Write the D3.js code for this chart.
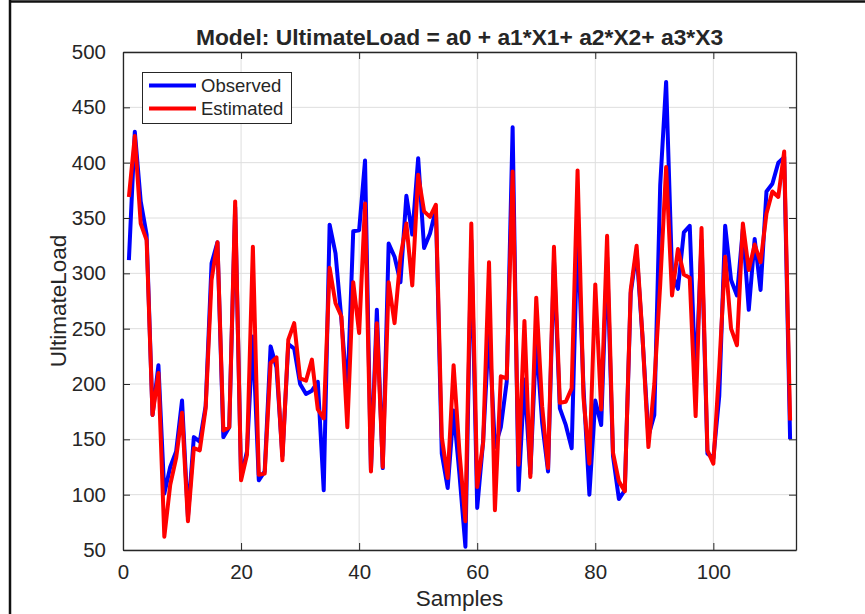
<!DOCTYPE html>
<html>
<head>
<meta charset="utf-8">
<script src="https://cdn.jsdelivr.net/npm/d3@7/dist/d3.min.js"></script>
<style>
html,body{margin:0;padding:0;background:#fff;}
svg{display:block;}
text{font-family:"Liberation Sans",Arial,Helvetica,sans-serif;fill:#262626;}
</style>
</head>
<body>
<svg id="chart" width="865" height="614"></svg>
<script>
const observed = [312,428,365,335,172,217,101,125,139,185,80,152,148,180,309,328,152,161,360,116,
  139,243,113,121,234,215,135,236,232,200,191,194,202,104,344,318,258,190,338,339,
  402,122,267,124,327,315,292,370,335,404,323,336,358,137,106,176,118,53,330,88,
  148,250,143,161,202,432,104,204,119,240,165,121,312,178,163,142,340,197,100,185,
  163,315,135,96,104,282,320,242,153,172,380,473,300,286,337,343,200,330,137,133,
  189,343,294,280,340,267,331,285,374,381,400,405,150];
const estimated = [369,424,345,330,172,210,62,109,133,174,76,142,140,178,294,328,158,161,365,113,
  136,324,118,119,219,224,131,240,255,205,203,222,177,169,305,273,261,161,292,246,
  363,121,255,125,292,255,315,345,289,389,356,351,362,152,115,217,138,76,345,107,
  147,310,86,207,205,392,127,257,116,278,180,124,324,183,184,196,393,188,128,290,
  177,334,138,112,103,285,325,243,143,200,290,396,280,322,299,296,171,341,140,128,
  215,315,250,235,345,303,326,310,354,374,369,410,167];
const samples = observed.map((d, i) => i + 1);
const xTicks = [0, 20, 40, 60, 80, 100];
const yTicks = [50, 100, 150, 200, 250, 300, 350, 400, 450, 500];
const seriesNames = ["Observed", "Estimated"];
const seriesColors = ["#0000ff", "#ff0000"];
const titleText = "Model: UltimateLoad = a0 + a1*X1+ a2*X2+ a3*X3";
const xLabel = "Samples";
const yLabel = "UltimateLoad";

const svg = d3.select("#chart");
const L = 123, R = 796, T = 52, B = 550;
const x = d3.scaleLinear().domain([0, 114]).range([L, R]);
const y = d3.scaleLinear().domain([50, 500]).range([B, T]);
const axisColor = "#262626";

// figure frame
svg.append("line").attr("x1", 9.5).attr("x2", 865).attr("y1", 1.5).attr("y2", 1.5)
  .attr("stroke", "#111").attr("stroke-width", 2.5);
svg.append("line").attr("x1", 10).attr("x2", 10).attr("y1", 0).attr("y2", 614)
  .attr("stroke", "#111").attr("stroke-width", 2.5);

// grid
const g = svg.append("g");
g.selectAll(".gx").data(xTicks).join("line")
  .attr("x1", d => x(d)).attr("x2", d => x(d)).attr("y1", T).attr("y2", B)
  .attr("stroke", "#dedede").attr("stroke-width", 1);
g.selectAll(".gy").data(yTicks).join("line")
  .attr("x1", L).attr("x2", R).attr("y1", d => y(d)).attr("y2", d => y(d))
  .attr("stroke", "#dedede").attr("stroke-width", 1);

// lines
const line = d3.line().x((d, i) => x(samples[i])).y(d => y(d));
[observed, estimated].forEach((s, k) => {
  svg.append("path").datum(s).attr("d", line)
    .attr("fill", "none").attr("stroke", seriesColors[k]).attr("stroke-width", 4)
    .attr("stroke-linejoin", "round").attr("stroke-linecap", "butt");
});

// axes (box with inward ticks on all sides)
const tl = 7;
const axB = d3.axisBottom(x).tickValues(xTicks).tickSizeInner(-tl).tickSizeOuter(0).tickPadding(14);
const axT = d3.axisTop(x).tickValues(xTicks).tickSizeInner(-tl).tickSizeOuter(0).tickFormat("");
const axL = d3.axisLeft(y).tickValues(yTicks).tickSizeInner(-tl).tickSizeOuter(0).tickPadding(17);
const axR = d3.axisRight(y).tickValues(yTicks).tickSizeInner(-tl).tickSizeOuter(0).tickFormat("");
function style(sel) {
  sel.select(".domain").attr("stroke", axisColor).attr("stroke-width", 1.3);
  sel.selectAll(".tick line").attr("stroke", axisColor).attr("stroke-width", 1);
  sel.selectAll("text").attr("fill", axisColor).style("font-size", "20.5px")
    .style("font-family", '"Liberation Sans",Arial,sans-serif');
}
svg.append("g").attr("transform", `translate(0,${B})`).call(axB).call(style);
svg.append("g").attr("transform", `translate(0,${T})`).call(axT).call(style);
svg.append("g").attr("transform", `translate(${L},0)`).call(axL).call(style);
svg.append("g").attr("transform", `translate(${R},0)`).call(axR).call(style);

// title & labels
svg.append("text").attr("x", (L + R) / 2).attr("y", 44.5).attr("text-anchor", "middle")
  .style("font-size", "22.8px").style("font-weight", "bold").attr("fill", "#000").text(titleText);
svg.append("text").attr("x", (L + R) / 2).attr("y", 606).attr("text-anchor", "middle")
  .style("font-size", "22.5px").text(xLabel);
svg.append("text").attr("transform", `translate(66,${(T + B) / 2}) rotate(-90)`)
  .attr("text-anchor", "middle").style("font-size", "22.5px").text(yLabel);

// legend
const lg = svg.append("g");
lg.append("rect").attr("x", 142.5).attr("y", 72.5).attr("width", 149).attr("height", 51)
  .attr("fill", "#fff").attr("stroke", axisColor).attr("stroke-width", 1);
seriesNames.forEach((n, k) => {
  const cy = 85.5 + k * 23;
  lg.append("line").attr("x1", 149).attr("x2", 196).attr("y1", cy).attr("y2", cy)
    .attr("stroke", seriesColors[k]).attr("stroke-width", 4);
  lg.append("text").attr("x", 201).attr("y", cy + 6.8).style("font-size", "18.5px")
    .attr("fill", "#000").text(n);
});
</script>
</body>
</html>
